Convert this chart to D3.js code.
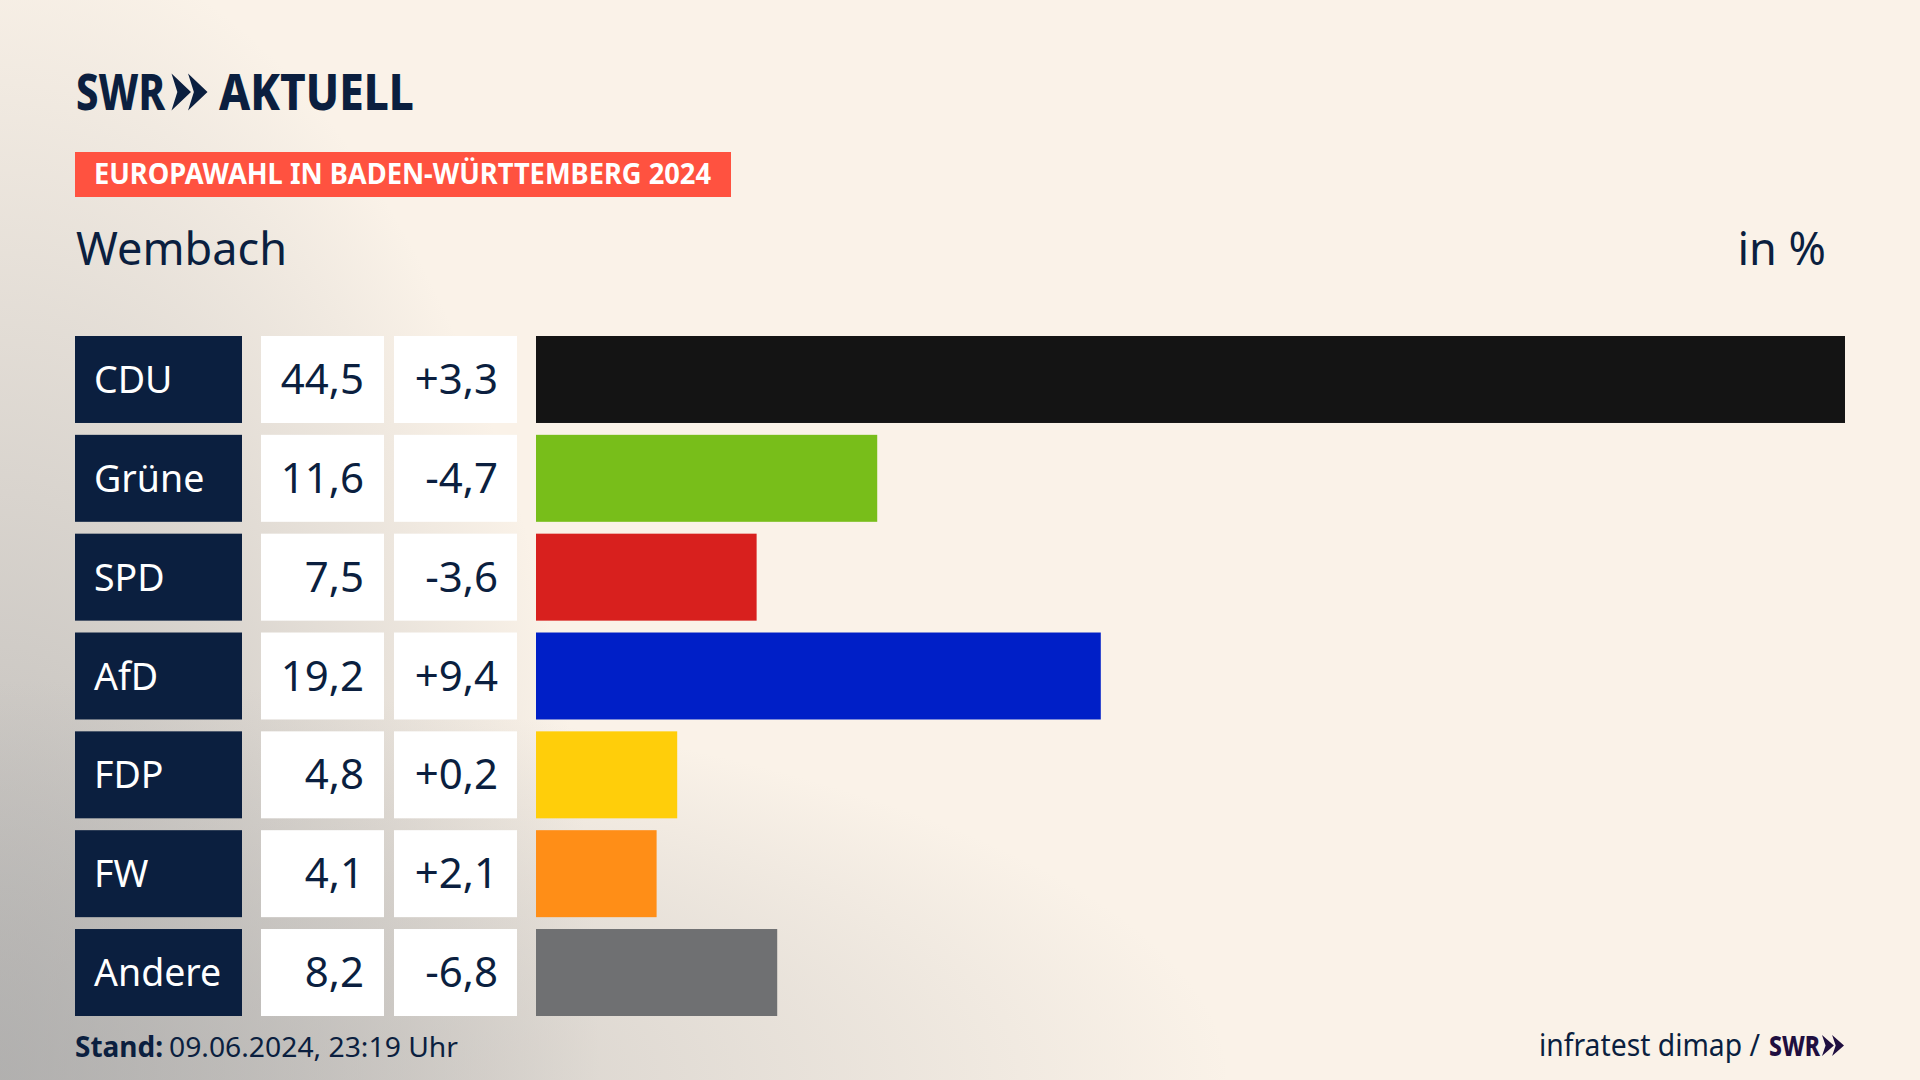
<!DOCTYPE html>
<html><head><meta charset="utf-8">
<script src="https://cdn.jsdelivr.net/npm/d3@7"></script>
<style>html,body{margin:0;padding:0;background:#FAF2E8;overflow:hidden}svg{display:block}text{font-family:"Noto Sans",sans-serif}</style>
</head><body><svg id="c" width="1920" height="1080"></svg>
<script>
const parties=["CDU","Grüne","SPD","AfD","FDP","FW","Andere"];
const shares=[44.5,11.6,7.5,19.2,4.8,4.1,8.2];
const changes=["+3,3","-4,7","-3,6","+9,4","+0,2","+2,1","-6,8"];
const barColors=["#141414","#78BE1A","#D8201E","#001FC7","#FFCE0A","#FF8E17","#6F7072"];
const navy="#0B1F3F";
const fmt=v=>v.toFixed(1).replace(".",",");
const svg=d3.select("#c");
const defs=svg.append("defs");
const glow=(id,rx,ry,a)=>{const g=defs.append("radialGradient").attr("id",id).attr("gradientUnits","userSpaceOnUse")
 .attr("cx",0).attr("cy",0).attr("r",1).attr("gradientTransform",`translate(0,1080) scale(${rx},${ry})`);
 [[0,a],[1,0]].forEach(s=>g.append("stop").attr("offset",s[0]).attr("stop-color","#AFAEAD").attr("stop-opacity",s[1]));};
glow("leftGlow",600,1150,0.9);
glow("bottomGlow",1230,400,0.7);
svg.append("rect").attr("width",1920).attr("height",1080).attr("fill","#FAF2E8");
svg.append("rect").attr("width",1920).attr("height",1080).attr("fill","url(#leftGlow)");
svg.append("rect").attr("width",1920).attr("height",1080).attr("fill","url(#bottomGlow)");
const chev=(g,x,y,h,w,fill)=>{ // double chevron glyph
 const a=w/1.85;
 [0,a*0.85].forEach(dx=>g.append("path").attr("fill",fill)
  .attr("d",d3.line()([[x+dx,y],[x+dx+a,y+h/2],[x+dx,y+h],[x+dx+a*0.3,y+h/2]])+"Z"));
};
const T=(s,x,y,size,opt={})=>{const t=svg.append("text").attr("x",x).attr("y",y).attr("font-size",size)
 .attr("fill",opt.fill||navy).attr("font-weight",opt.w||400).attr("text-anchor",opt.a||"start").text(s);
 if(opt.len)t.attr("textLength",opt.len).attr("lengthAdjust","spacingAndGlyphs");return t;};
T("SWR",76,110,50,{w:800,len:89});
chev(svg,171.5,73.5,37,36,navy);
T("AKTUELL",219,110,50,{w:800,len:195});
svg.append("rect").attr("x",75).attr("y",152).attr("width",656).attr("height",45).attr("fill","#FF5240");
T("EUROPAWAHL IN BADEN-WÜRTTEMBERG 2024",94,184,28,{w:700,fill:"#fff",len:617});
T("Wembach",76,265,45,{len:211});
T("in %",1826,265,45,{a:"end"});
const y=d3.scaleBand().domain(parties).range([336,1016]).paddingInner(0.12);
const x=d3.scaleLinear().domain([0,44.5]).range([536,1845]);
const rows=svg.selectAll("g.row").data(parties).join("g").attr("class","row").attr("transform",d=>`translate(0,${y(d)})`);
const h=y.bandwidth();
rows.append("rect").attr("x",75).attr("width",167).attr("height",h).attr("fill",navy);
rows.append("rect").attr("x",261).attr("width",123).attr("height",h).attr("fill","#fff");
rows.append("rect").attr("x",394).attr("width",123).attr("height",h).attr("fill","#fff");
rows.append("rect").attr("x",x(0)).attr("width",(d,i)=>x(shares[i])-x(0)).attr("height",h).attr("fill",(d,i)=>barColors[i]);
rows.append("text").attr("x",94).attr("y",57).attr("font-size",37.5).attr("fill","#fff").text(d=>d);
rows.append("text").attr("x",364).attr("y",58).attr("font-size",42).attr("fill",navy).attr("text-anchor","end").text((d,i)=>fmt(shares[i]));
rows.append("text").attr("x",498).attr("y",58).attr("font-size",42).attr("fill",navy).attr("text-anchor","end").text((d,i)=>changes[i]);
T("Stand:",75,1057,28,{w:700,len:88});
T("09.06.2024, 23:19 Uhr",169,1057,28,{len:289});
T("infratest dimap /",1539,1056,30,{len:221});
T("SWR",1769,1056,28,{w:800,fill:"#1F0F40",len:51});
chev(svg,1822,1035,21,22,"#1F0F40");
</script></body></html>
